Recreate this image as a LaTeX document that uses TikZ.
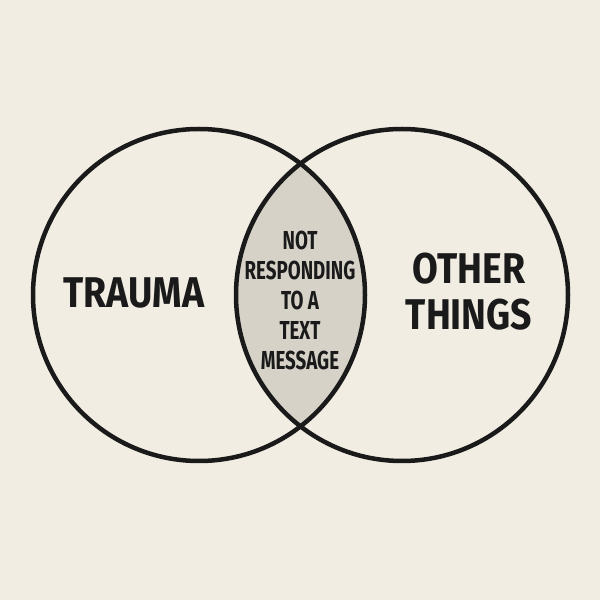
\documentclass[tikz,border=0pt]{standalone}
\usepackage{fontspec}
\setmainfont{Fira Sans}
\definecolor{bg}{HTML}{F2EDE3}
\definecolor{lens}{HTML}{D6D2C8}
\definecolor{ink}{HTML}{1A1A1A}
\begin{document}
\begin{tikzpicture}[x=1pt,y=1pt,
  big/.style={font=\bfseries\fontsize{43}{46}\selectfont, text=ink, align=center, xscale=0.87},
  small/.style={font=\bfseries\fontsize{26}{30}\selectfont, text=ink, align=center, xscale=0.72}]
\fill[bg] (0,0) rectangle (600,600);
\useasboundingbox (0,0) rectangle (600,600);
\coordinate (L) at (199,305);
\coordinate (R) at (402,305);
\begin{scope}
\clip (L) circle (166);
\fill[lens] (R) circle (166);
\end{scope}
\draw[ink, line width=4.5] (L) circle (166);
\draw[ink, line width=4.5] (R) circle (166);
\node[big] (t) at (134,307) {TRAUMA};
\node[big] (o) at (469,308) {OTHER\\THINGS};
\node[small] (m) at (300,300) {NOT\\RESPONDING\\TO A\\TEXT\\MESSAGE};
\end{tikzpicture}
\end{document}
